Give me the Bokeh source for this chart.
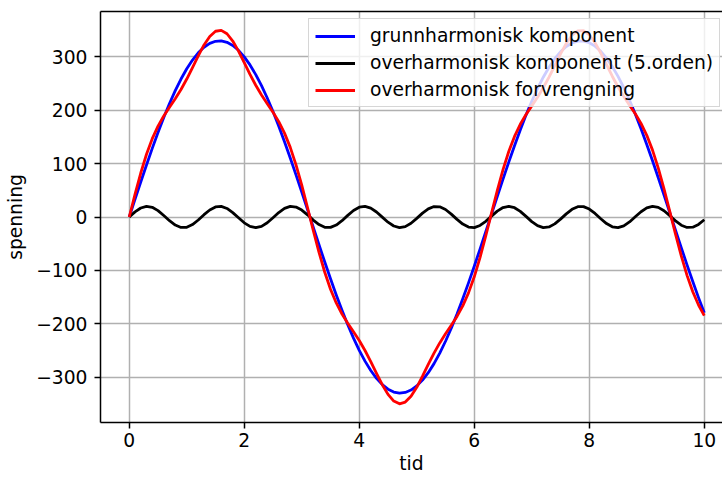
from bokeh.plotting import figure
from bokeh.models import Range1d, FixedTicker, LinearAxis, Legend, LegendItem, ColumnDataSource
from bokeh.embed import file_html
from bokeh.resources import INLINE

# ---- data ----
t = [0.0, 0.1, 0.2, 0.3, 0.4, 0.5, 0.6, 0.7, 0.8, 0.9,
     1.0, 1.1, 1.2, 1.3, 1.4, 1.5, 1.6, 1.7, 1.8, 1.9,
     2.0, 2.1, 2.2, 2.3, 2.4, 2.5, 2.6, 2.7, 2.8, 2.9,
     3.0, 3.1, 3.2, 3.3, 3.4, 3.5, 3.6, 3.7, 3.8, 3.9,
     4.0, 4.1, 4.2, 4.3, 4.4, 4.5, 4.6, 4.7, 4.8, 4.9,
     5.0, 5.1, 5.2, 5.3, 5.4, 5.5, 5.6, 5.7, 5.8, 5.9,
     6.0, 6.1, 6.2, 6.3, 6.4, 6.5, 6.6, 6.7, 6.8, 6.9,
     7.0, 7.1, 7.2, 7.3, 7.4, 7.5, 7.6, 7.7, 7.8, 7.9,
     8.0, 8.1, 8.2, 8.3, 8.4, 8.5, 8.6, 8.7, 8.8, 8.9,
     9.0, 9.1, 9.2, 9.3, 9.4, 9.5, 9.6, 9.7, 9.8, 9.9,
     10.0]

grunnharmonisk = [0, 32.9, 65.6, 97.5, 128.5, 158.2, 186.3, 212.6, 236.7, 258.5,
    277.7, 294.1, 307.6, 318.0, 325.2, 329.2, 329.9, 327.3, 321.4, 312.3,
    300.1, 284.9, 266.8, 246.1, 222.9, 197.5, 170.1, 141.0, 110.6, 78.9,
    46.6, 13.7, -19.3, -52.0, -84.3, -115.8, -146.0, -174.8, -201.9, -227.0,
    -249.7, -270.0, -287.6, -302.3, -314.0, -322.6, -327.9, -330.0, -328.7, -324.2,
    -316.4, -305.5, -291.6, -274.7, -255.0, -232.8, -208.3, -181.7, -153.3, -123.4,
    -92.2, -60.1, -27.4, 5.5, 38.4, 71.0, 102.8, 133.6, 163.1, 190.9,
    216.8, 240.6, 261.9, 280.6, 296.6, 309.5, 319.4, 326.1, 329.5, 329.6,
    326.5, 320.1, 310.4, 297.7, 282.0, 263.5, 242.4, 218.8, 193.0, 165.3,
    136.0, 105.3, 73.6, 41.1, 8.2, -24.8, -57.5, -89.7, -120.9, -151.0,
    -179.5]

overharmonisk = [0, 9.6, 16.8, 20.0, 18.2, 12.0, 2.8, -7.0, -15.1, -19.6,
    -19.2, -14.1, -5.6, 4.3, 13.1, 18.8, 19.8, 16.0, 8.2, -1.5,
    -10.9, -17.6, -20.0, -17.5, -10.7, -1.3, 8.4, 16.1, 19.8, 18.7,
    13.0, 4.1, -5.8, -14.2, -19.2, -19.5, -15.0, -6.9, 3.0, 12.1,
    18.3, 19.9, 16.7, 9.4, -0.2, -9.7, -16.9, -20.0, -18.1, -11.8,
    -2.6, 7.2, 15.3, 19.6, 19.1, 14.0, 5.4, -4.5, -13.3, -18.8,
    -19.8, -15.9, -8.1, 1.7, 11.0, 17.7, 20.0, 17.4, 10.6, 1.1,
    -8.6, -16.2, -19.8, -18.6, -12.9, -4.0, 5.9, 14.4, 19.3, 19.5,
    14.9, 6.7, -3.2, -12.3, -18.3, -19.9, -16.6, -9.3, 0.4, 9.9,
    17.0, 20.0, 18.0, 11.7, 2.5, -7.3, -15.4, -19.6, -19.1, -13.9,
    -5.2]

forvrengning = [0, 42.5, 82.4, 117.5, 146.7, 170.2, 189.1, 205.6, 221.6, 238.9,
    258.5, 280.0, 302.0, 322.3, 338.3, 348.0, 349.7, 343.3, 329.6, 310.8,
    289.2, 267.3, 246.8, 228.6, 212.2, 196.2, 178.5, 157.1, 130.4, 97.6,
    59.6, 17.8, -25.1, -66.2, -103.5, -135.3, -161.0, -181.7, -198.9, -214.9,
    -231.4, -250.1, -270.9, -292.9, -314.2, -332.3, -344.8, -350.0, -346.8, -336.0,
    -319.0, -298.3, -276.3, -255.1, -235.9, -218.8, -202.9, -186.2, -166.6, -142.2,
    -112.0, -76.0, -35.5, 7.2, 49.4, 88.7, 122.8, 151.0, 173.7, 192.0,
    208.2, 224.4, 242.1, 262.0, 283.7, 305.5, 325.3, 340.5, 348.8, 349.1,
    341.4, 326.8, 307.2, 285.4, 263.7, 243.6, 225.8, 209.5, 193.4, 175.2,
    153.0, 125.3, 91.6, 52.8, 10.7, -32.1, -72.9, -109.3, -140.0, -164.9,
    -184.7]

series_labels = ["grunnharmonisk komponent",
                 "overharmonisk komponent (5.orden)",
                 "overharmonisk forvrengning"]
x_ticks = [0, 2, 4, 6, 8, 10]
x_tick_labels = ["0", "2", "4", "6", "8", "10"]
y_ticks = [-300, -200, -100, 0, 100, 200, 300]
y_tick_labels = ["\u2212300", "\u2212200", "\u2212100", "0", "100", "200", "300"]
x_label = "tid"
y_label = "spenning"

# ---- styling ----
FONT = "DejaVu Sans"
FS = "18.7px"
LW = 2.8

src = ColumnDataSource(dict(t=t, g=grunnharmonisk, o=overharmonisk, f=forvrengning))

p = figure(width=722, height=477, output_backend="svg", toolbar_location=None,
           x_range=Range1d(-0.5, 10.317), y_range=Range1d(-385, 385),
           min_border_left=100, min_border_right=0, min_border_top=11, min_border_bottom=55)
p.outline_line_color = None
p.background_fill_color = "white"
p.border_fill_color = "white"

r1 = p.line("t", "g", source=src, line_color="#0000ff", line_width=LW, line_join="round")
r2 = p.line("t", "o", source=src, line_color="#000000", line_width=LW, line_join="round")
r3 = p.line("t", "f", source=src, line_color="#ff0000", line_width=LW, line_join="round")

p.xaxis.ticker = FixedTicker(ticks=x_ticks)
p.yaxis.ticker = FixedTicker(ticks=y_ticks)
p.xaxis.major_label_overrides = {k: v for k, v in zip(x_ticks, x_tick_labels)}
p.yaxis.major_label_overrides = {k: v for k, v in zip(y_ticks, y_tick_labels)}
p.xaxis.axis_label = x_label
p.yaxis.axis_label = y_label

for ax in (p.xaxis[0], p.yaxis[0]):
    ax.axis_line_color = "black"
    ax.axis_line_width = 1.5
    ax.major_tick_line_color = "black"
    ax.major_tick_line_width = 1.5
    ax.major_tick_in = 0
    ax.major_tick_out = 6
    ax.minor_tick_in = 0
    ax.minor_tick_out = 0
    ax.major_label_text_font = FONT
    ax.major_label_text_font_size = FS
    ax.major_label_text_color = "black"
    ax.axis_label_text_font = FONT
    ax.axis_label_text_font_size = FS
    ax.axis_label_text_font_style = "normal"
    ax.axis_label_text_color = "black"

p.xaxis.major_label_standoff = 4
p.yaxis.major_label_standoff = 7
p.xaxis.axis_label_standoff = 3
p.yaxis.axis_label_standoff = 7

top = LinearAxis(ticker=FixedTicker(ticks=[]), major_label_text_font_size="0px",
                 major_tick_out=0, major_tick_in=0, minor_tick_out=0, minor_tick_in=0,
                 major_label_standoff=0, axis_line_width=1.5, axis_line_color="black")
p.add_layout(top, "above")

for g in (p.xgrid[0], p.ygrid[0]):
    g.grid_line_color = "#b0b0b0"
    g.grid_line_width = 1.5
p.xgrid.ticker = FixedTicker(ticks=x_ticks)
p.ygrid.ticker = FixedTicker(ticks=y_ticks)

legend = Legend(items=[LegendItem(label=series_labels[0], renderers=[r1]),
                       LegendItem(label=series_labels[1], renderers=[r2]),
                       LegendItem(label=series_labels[2], renderers=[r3])],
                location=(208, 315), margin=0, padding=6, spacing=6,
                glyph_width=40, glyph_height=20, label_height=20, label_standoff=15,
                label_text_font=FONT, label_text_font_size=FS, label_text_color="black",
                background_fill_color="white", background_fill_alpha=0.8,
                border_line_color="#cccccc", border_line_alpha=0.8, border_line_width=1.5)
p.add_layout(legend)

open("out.html", "w").write(file_html(p, INLINE))
